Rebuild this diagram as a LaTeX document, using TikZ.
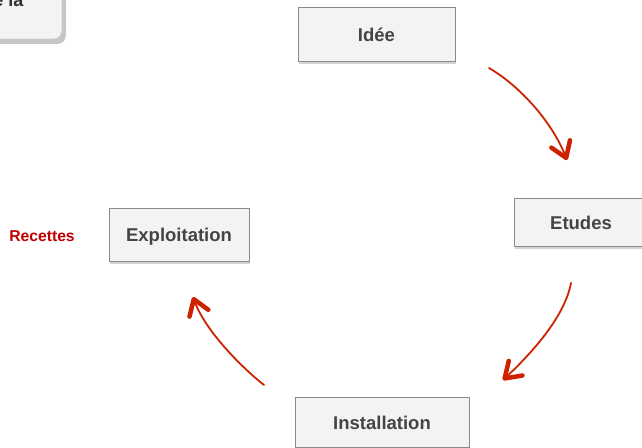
\documentclass[tikz,border=0pt]{standalone}
\usepackage{fontspec}
\setmainfont{Liberation Sans}
\usetikzlibrary{shadows,arrows.meta}

\definecolor{boxfill}{HTML}{F3F3F3}
\definecolor{boxline}{HTML}{8A8A8A}
\definecolor{boxtext}{HTML}{444444}
\definecolor{arrowred}{HTML}{CC2200}
\definecolor{labelred}{HTML}{C00000}

\begin{document}
\begin{tikzpicture}[x=1pt,y=-1pt,
    stage/.style={draw=boxline,fill=boxfill,text=boxtext,inner sep=0pt,
        text height=14pt,text depth=0pt,
        font=\fontsize{18.5}{22}\selectfont\bfseries,
        drop shadow={shadow xshift=1pt,shadow yshift=-2.5pt,opacity=0.35}},
    cyclearrow/.style={arrowred,line width=1.8pt,line cap=round,
        -{Straight Barb[length=15pt,width=20pt,line width=4.5pt,round]}}]

        \useasboundingbox (0,0) rectangle (642,447);

        % Title box (cut off at the corner)
        \node[fill=boxfill,draw=boxline!40,rounded corners=8pt,minimum width=200pt,minimum height=90pt,
              anchor=south east,drop shadow={shadow xshift=4pt,shadow yshift=-5pt,opacity=0.45}]
              (title) at (62,39) {};
        \node[anchor=base east,text=boxtext!70!black,font=\fontsize{18}{21}\selectfont\bfseries] (titletext) at (27,6) {e la};

        % Stages
        \node[stage,minimum width=157pt,minimum height=54pt] (idee) at (376.5,34) {Idée};
        \node[stage,minimum width=134pt,minimum height=48pt] (etudes) at (581,222) {Etudes};
        \node[stage,minimum width=174pt,minimum height=50pt] (installation) at (382,422) {Installation};
        \node[stage,minimum width=140pt,minimum height=53pt] (exploitation) at (179,234.5) {Exploitation};

        % Side label
        \node[text=labelred,font=\fontsize{15.7}{18}\selectfont\bfseries] (recettes) at (42,236) {Recettes};

        % Cycle arrows (free standing)
        \coordinate (ideeout) at (489,68);
        \coordinate (etudesin) at (567,160);
        \coordinate (etudesout) at (571,283);
        \coordinate (installin) at (503,380);
        \coordinate (installout) at (264,385);
        \coordinate (exploitin) at (193,297);

        \draw[cyclearrow] (ideeout) .. controls (520,86) and (552,122) .. (etudesin);
        \draw[cyclearrow] (etudesout) .. controls (565,315) and (535,350) .. (installin);
        \draw[cyclearrow] (installout) .. controls (240,366) and (205,330) .. (exploitin);

    \end{tikzpicture}
\end{document}
